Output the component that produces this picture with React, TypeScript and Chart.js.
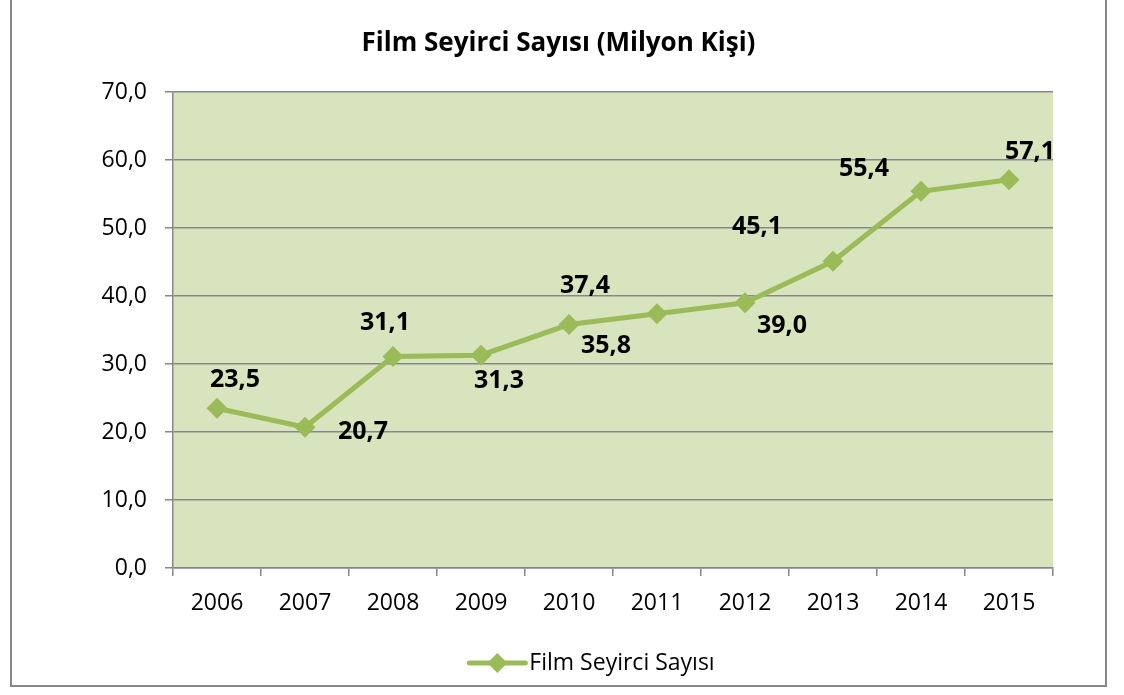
import React, { useEffect, useRef } from "react";
import { Chart, registerables } from "chart.js";

Chart.register(...registerables);

const years = ["2006", "2007", "2008", "2009", "2010", "2011", "2012", "2013", "2014", "2015"];
const viewers = [23.5, 20.7, 31.1, 31.3, 35.8, 37.4, 39.0, 45.1, 55.4, 57.1];
const seriesName = "Film Seyirci Sayısı";
const titleText = "Film Seyirci Sayısı (Milyon Kişi)";
// label offsets (dx, dy) from each point, in px
const labelDx = [18, 58, -8, 18, 37, -72, 37, -76, -57, 21];
const labelDy = [-28, 5, -34, 26, 21, -28, 23, -34, -22, -28];

const FONT = "'Open Sans', 'Noto Sans', sans-serif";
const GREEN = "#9BBB59";
const GRID = "#878787";

const fmt = (v: number) => v.toFixed(1).replace(".", ",");

const bgPlugin = {
  id: "plotBg",
  beforeDraw(chart: any) {
    const { ctx, chartArea } = chart;
    ctx.save();
    ctx.fillStyle = "#D7E4BD";
    ctx.fillRect(chartArea.left, chartArea.top, chartArea.right - chartArea.left, chartArea.bottom - chartArea.top);
    ctx.restore();
  },
};

const titlePlugin = {
  id: "customTitle",
  afterDraw(chart: any) {
    const { ctx } = chart;
    ctx.save();
    ctx.font = `bold 26px ${FONT}`;
    ctx.fillStyle = "#000";
    ctx.textAlign = "center";
    ctx.textBaseline = "middle";
    ctx.fillText(titleText, chart.width / 2, 44);
    ctx.restore();
  },
};

const labelPlugin = {
  id: "valueLabels",
  afterDatasetsDraw(chart: any) {
    const { ctx } = chart;
    const meta = chart.getDatasetMeta(0);
    ctx.save();
    ctx.font = `bold 25px ${FONT}`;
    ctx.fillStyle = "#000";
    ctx.textAlign = "center";
    ctx.textBaseline = "middle";
    meta.data.forEach((pt: any, i: number) => {
      ctx.fillText(fmt(viewers[i]), pt.x + labelDx[i], pt.y + labelDy[i]);
    });
    ctx.restore();
  },
};

const legendPlugin = {
  id: "customLegend",
  afterDraw(chart: any) {
    const { ctx } = chart;
    const cx = 580;
    const cy = 663;
    ctx.save();
    ctx.font = `23px ${FONT}`;
    const tw = ctx.measureText(seriesName).width;
    const lineW = 56;
    const gap = 4;
    const total = lineW + gap + tw;
    const x0 = cx - total / 2;
    ctx.strokeStyle = GREEN;
    ctx.lineWidth = 5;
    ctx.lineCap = "round";
    ctx.beginPath();
    ctx.moveTo(x0, cy);
    ctx.lineTo(x0 + lineW, cy);
    ctx.stroke();
    const mx = x0 + lineW / 2;
    ctx.fillStyle = GREEN;
    ctx.beginPath();
    ctx.moveTo(mx, cy - 10);
    ctx.lineTo(mx + 10, cy);
    ctx.lineTo(mx, cy + 10);
    ctx.lineTo(mx - 10, cy);
    ctx.closePath();
    ctx.fill();
    ctx.fillStyle = "#000";
    ctx.textAlign = "left";
    ctx.textBaseline = "middle";
    ctx.fillText(seriesName, x0 + lineW + gap, cy);
    ctx.restore();
  },
};

export default function App() {
  const ref = useRef<HTMLCanvasElement>(null);
  useEffect(() => {
    if (!ref.current) return;
    const chart = new Chart(ref.current, {
      type: "line",
      data: {
        labels: years,
        datasets: [
          {
            label: seriesName,
            data: viewers,
            borderColor: GREEN,
            backgroundColor: GREEN,
            borderWidth: 5,
            pointStyle: "rectRot",
            pointRadius: 10.5,
            pointHoverRadius: 10.5,
            pointBackgroundColor: GREEN,
            pointBorderColor: GREEN,
            pointBorderWidth: 0,
            tension: 0,
          },
        ],
      },
      options: {
        responsive: false,
        animation: false,
        layout: { padding: { left: 0, right: 52, top: 92, bottom: 67 } },
        plugins: {
          legend: { display: false },
          tooltip: { enabled: false },
          title: { display: false },
        },
        scales: {
          x: {
            offset: true,
            afterFit: (s: any) => {
              s.height = 50;
            },
            grid: {
              display: true,
              offset: true,
              drawOnChartArea: false,
              drawTicks: true,
              tickLength: 8,
              color: GRID,
              lineWidth: 1.5,
            },
            border: { display: true, color: GRID, width: 1.5 },
            ticks: {
              color: "#000",
              font: { family: FONT, size: 23 },
              padding: 14,
              maxRotation: 0,
            },
          },
          y: {
            min: 0,
            max: 70,
            afterFit: (s: any) => {
              s.width = 161;
            },
            grid: {
              color: GRID,
              lineWidth: 1.5,
              tickLength: 8,
            },
            border: { display: true, color: GRID, width: 1.5 },
            ticks: {
              stepSize: 10,
              color: "#000",
              font: { family: FONT, size: 23 },
              padding: 18,
              callback: (v: any) => fmt(Number(v)),
            },
          },
        },
      },
      plugins: [bgPlugin, titlePlugin, labelPlugin, legendPlugin],
    });
    return () => chart.destroy();
  }, []);

  return (
    <div
      style={{
        position: "fixed",
        left: 10,
        top: -2,
        width: 1097,
        height: 689,
        border: "2px solid #878787",
        boxSizing: "border-box",
        background: "#fff",
      }}
    >
      <canvas ref={ref} width={1093} height={685} style={{ display: "block" }} />
    </div>
  );
}
